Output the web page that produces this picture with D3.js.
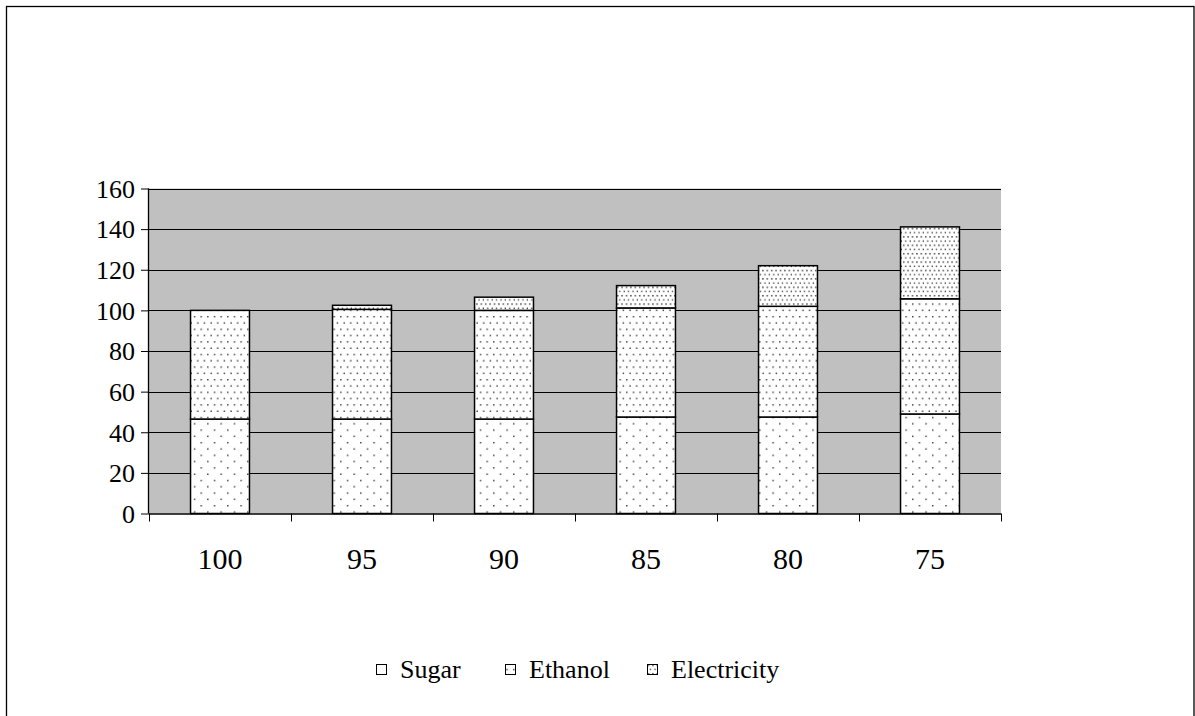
<!DOCTYPE html>
<html><head><meta charset="utf-8">
<script src="https://cdn.jsdelivr.net/npm/d3@7"></script>
<style>body{margin:0;background:#fff}svg{display:block}</style>
</head><body>
<script>
const categories = ["100","95","90","85","80","75"];
const seriesNames = ["Sugar","Ethanol","Electricity"];
const sugar = [46.5, 46.5, 46.5, 47.5, 47.5, 49];
const ethanol = [53.5, 54, 53.5, 53.7, 54.5, 56.7];
const electricity = [0, 2, 6.5, 11, 20, 35.4];
const yTicks = [0,20,40,60,80,100,120,140,160];

const W = 1195, H = 716;
const FONT = '"Liberation Serif"';
const svg = d3.select("body").append("svg").attr("width", W).attr("height", H);
const defs = svg.append("defs");

function pat(id, w, h, pts){
  const p = defs.append("pattern").attr("id", id).attr("patternUnits","userSpaceOnUse")
    .attr("width", w).attr("height", h);
  p.append("rect").attr("width", w).attr("height", h).attr("fill","#fff");
  pts.forEach(([x,y]) => p.append("rect").attr("x",x).attr("y",y).attr("width",1.4).attr("height",1.4).attr("fill","#333"));
}
pat("pSugar", 13.3, 12.6, [[1,1],[7.65,7.3]]);
pat("pEthanol", 6.65, 12.6, [[1,1],[4.3,7.3]]);
pat("pElec", 4.4, 8.4, [[1,1],[3.2,5.2]]);
const fills = ["url(#pSugar)","url(#pEthanol)","url(#pElec)"];

svg.append("rect").attr("x",6.5).attr("y",6.5).attr("width",1187.5).attr("height",720)
  .attr("fill","none").attr("stroke","#000").attr("stroke-width",1.3);

const x0 = 149, x1 = 1001, yTop = 188.5, yBot = 513.5;
const x = d3.scaleBand().domain(categories).range([x0, x1]).paddingInner(0.585).paddingOuter(0.2925);
const xb = d3.scaleBand().domain(categories).range([x0, x1]);
const y = d3.scaleLinear().domain([0,160]).range([yBot, yTop]);

svg.append("rect").attr("x",x0).attr("y",yTop).attr("width",x1-x0).attr("height",yBot-yTop).attr("fill","#c0c0c0");

svg.append("g").selectAll("line").data(yTicks.filter(d=>d>0)).join("line")
  .attr("x1",x0).attr("x2",x1).attr("y1",d=>Math.round(y(d))+0.5).attr("y2",d=>Math.round(y(d))+0.5)
  .attr("stroke","#000").attr("stroke-width",1);

const table = categories.map((c,i)=>({cat:c, Sugar:sugar[i], Ethanol:ethanol[i], Electricity:electricity[i]}));
const stack = d3.stack().keys(seriesNames)(table);
const g = svg.append("g");
stack.forEach((s,si)=>{
  g.selectAll(null).data(s.filter(d=>d[1]-d[0]>0)).join("rect")
    .attr("x", d=>x(d.data.cat)).attr("width", x.bandwidth())
    .attr("y", d=>y(d[1])).attr("height", d=>y(d[0])-y(d[1]))
    .attr("fill", fills[si]).attr("stroke","#000").attr("stroke-width",1.5);
});

const ya = svg.append("g").attr("transform",`translate(${x0},0)`)
  .call(d3.axisLeft(y).tickValues(yTicks).tickSize(8).tickPadding(6).tickFormat(d3.format("d")));
ya.select(".domain").attr("d",`M-0.5,${yTop}V${yBot}`).attr("stroke","#000").attr("stroke-width",1.3);
ya.selectAll("text").style("font-family",FONT).style("font-size","26px").attr("fill","#000").attr("dy","0.34em");
ya.selectAll(".tick line").attr("stroke","#000");

const xa = svg.append("g").attr("transform",`translate(0,${yBot})`)
  .call(d3.axisBottom(xb).tickSize(0).tickPadding(34));
xa.select(".domain").attr("d",`M${x0},0.5H${x1}`).attr("stroke","#000").attr("stroke-width",1.3);
xa.selectAll("text").style("font-family",FONT).style("font-size","30px").attr("fill","#000");
svg.append("g").selectAll("line").data(categories.concat(["end"])).join("line")
  .attr("x1",(d,i)=>Math.round(x0 + i*xb.step())+0.5).attr("x2",(d,i)=>Math.round(x0 + i*xb.step())+0.5)
  .attr("y1",yBot).attr("y2",yBot+8).attr("stroke","#000").attr("stroke-width",1);

const legX = [376, 505, 647];
const leg = svg.append("g");
seriesNames.forEach((n,i)=>{
  leg.append("rect").attr("x",legX[i]+0.5).attr("y",664.5).attr("width",10).attr("height",10)
    .attr("fill",fills[i]).attr("stroke","#000").attr("stroke-width",1);
  leg.append("text").attr("x",legX[i]+24).attr("y",678).style("font-family",FONT).style("font-size","26px")
    .attr("fill","#000").text(n);
});
</script>
</body></html>
